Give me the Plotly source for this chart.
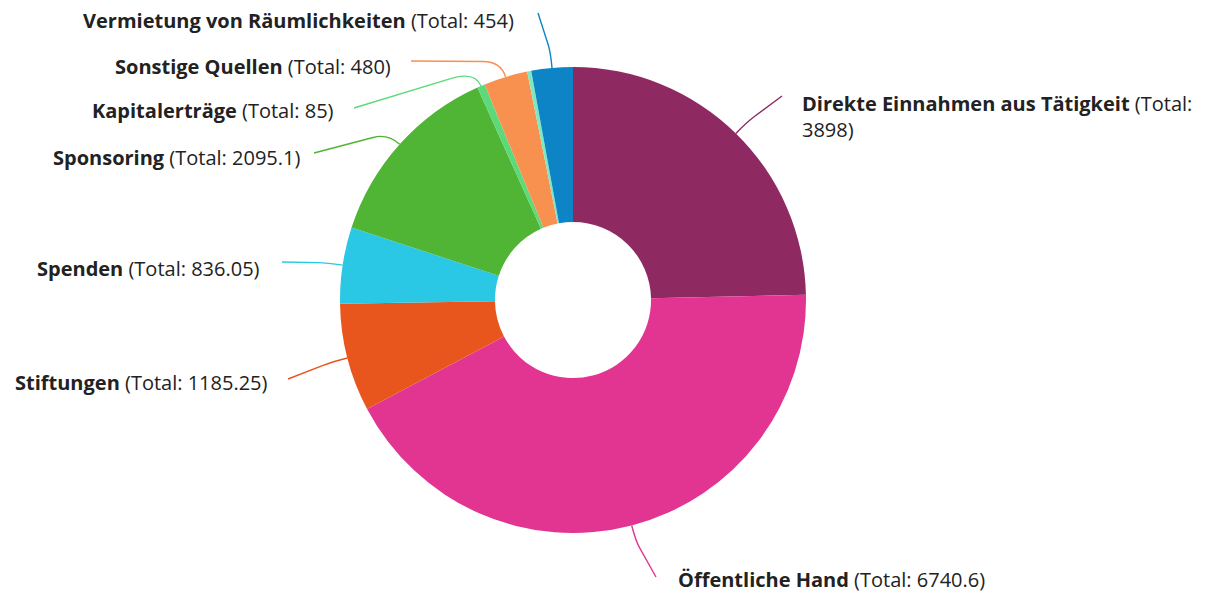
import numpy as np
import plotly.graph_objects as go

# Revenue sources, in drawing order (clockwise from 12 o'clock)
categories = [
    "Direkte Einnahmen aus Tätigkeit",
    "Öffentliche Hand",
    "Stiftungen",
    "Spenden",
    "Sponsoring",
    "Kapitalerträge",
    "Sonstige Quellen",
    "Weitere Einnahmen",
    "Vermietung von Räumlichkeiten",
]
totals = [3898, 6740.6, 1185.25, 836.05, 2095.1, 85, 480, 45, 454]
colors = [
    "#8f2961", "#e23592", "#e8561e", "#2ac8e4", "#50b435",
    "#5ed97a", "#f89150", "#7ee8c0", "#0d84c6",
]

# Label placement in page pixels: (anchor x, centre y, side)
label_layout = {
    "Direkte Einnahmen aus Tätigkeit": (800, 116, "right"),
    "Öffentliche Hand": (676, 579, "right"),
    "Stiftungen": (270, 382, "left"),
    "Spenden": (262, 268, "left"),
    "Sponsoring": (302, 157, "left"),
    "Kapitalerträge": (336, 110, "left"),
    "Sonstige Quellen": (393, 66, "left"),
    "Vermietung von Räumlichkeiten": (516, 20, "left"),
}
# Connector start offsets relative to the label anchor (dx, dy)
connector_start = {
    "Direkte Einnahmen aus Tätigkeit": (-18, -20),
    "Öffentliche Hand": (-20, -2),
    "Stiftungen": (18, -3),
    "Spenden": (20, -6),
    "Sponsoring": (12, -4),
    "Kapitalerträge": (18, -2),
    "Sonstige Quellen": (18, -5),
    "Vermietung von Räumlichkeiten": (22, -7),
}

W, H = 1207, 594
CX, CY, R = 573, 300, 233
HOLE = 0.335
FONT = "Open Sans"

fig = go.Figure()
fig.add_trace(go.Pie(
    labels=categories,
    values=totals,
    sort=False,
    direction="clockwise",
    rotation=0,
    hole=HOLE,
    marker=dict(colors=colors, line=dict(width=0)),
    textinfo="none",
    showlegend=False,
    domain=dict(x=[(CX - R) / W, (CX + R) / W], y=[(H - CY - R) / H, (H - CY + R) / H]),
))

# Connectors and labels
vals = np.array(totals, dtype=float)
cum = np.cumsum(vals) - vals / 2
mid_angles = np.radians(cum / vals.sum() * 360.0)

shapes = []
annotations = []
for name, val, col, ang in zip(categories, totals, colors, mid_angles):
    if name not in label_layout:
        continue
    lx, ly, side = label_layout[name]
    dx, dy = connector_start[name]
    px, py = lx + dx, ly + dy
    sx, sy = np.sin(ang), -np.cos(ang)
    ex, ey = CX + R * sx, CY + R * sy
    bx, by = CX + (R + 16) * sx, CY + (R + 16) * sy
    # straight run toward the break point, then a rounded bend into the slice
    b1x, b1y = px + 0.8 * (bx - px), py + 0.8 * (by - py)
    path = f"M {px},{py} L {b1x},{b1y} Q {bx},{by} {ex},{ey}"
    shapes.append(dict(type="path", xref="x", yref="y", path=path,
                       line=dict(color=col, width=1.4), layer="above"))
    value_txt = f"{val:g}"
    if name.startswith("Direkte"):
        text = f"<b>{name}</b> (Total:<br>{value_txt})"
    else:
        text = f"<b>{name}</b> (Total: {value_txt})"
    annotations.append(dict(
        x=lx, y=ly, xref="x", yref="y", text=text, showarrow=False,
        xanchor="right" if side == "left" else "left", yanchor="middle",
        align="left", font=dict(family=FONT, size=20, color="#222222"),
    ))

fig.update_layout(
    width=W, height=H,
    margin=dict(l=0, r=0, t=0, b=0),
    paper_bgcolor="white", plot_bgcolor="rgba(0,0,0,0)",
    xaxis=dict(range=[0, W], visible=False, fixedrange=True),
    yaxis=dict(range=[H, 0], visible=False, fixedrange=True),
    shapes=shapes, annotations=annotations,
    font=dict(family=FONT),
)

fig.write_html("out.html")
